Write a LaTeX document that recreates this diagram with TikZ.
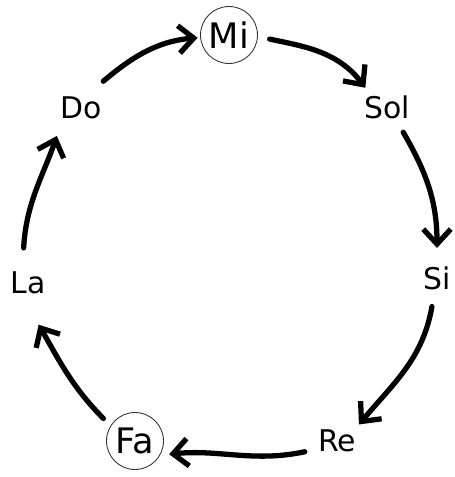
\documentclass[tikz,border=0pt]{standalone}
\usepackage{fontspec}
\setmainfont{DejaVu Sans}
\usepackage{tikz}
\usetikzlibrary{arrows.meta}

\begin{document}
\begin{tikzpicture}[x=0.02cm,y=0.02cm,line join=round,
  note/.style={circle,inner sep=0pt,outer sep=0pt,minimum size=1.1cm,font=\fontsize{17}{20}\selectfont},
  keynote/.style={note,draw=black!80,line width=.5pt,minimum size=1.14cm,font=\fontsize{20}{23}\selectfont},
  turn/.style={line width=3pt,line cap=round,-{Straight Barb[length=.3cm,width=.55cm]}}]
\useasboundingbox (0,0) rectangle (454,477);
\node[keynote] (mi) at (229,442) {Mi};
\node[note] (sol) at (387,370) {Sol};
\node[note] (si) at (437,199) {Si};
\node[note] (re) at (337,36) {Re};
\node[keynote] (fa) at (135,36) {Fa};
\node[note] (la) at (28,194) {La};
\node[note] (do) at (81,369) {Do};
\draw[turn,shorten <=.15cm,shorten >=.06cm] (do.53) to[out=40,in=185] (mi.185);
\draw[turn,shorten <=.25cm,shorten >=.03cm] (mi.-3) to[out=-12,in=127] (sol.139);
\draw[turn,shorten <=.05cm,shorten >=.05cm] (sol.-57) to[out=-60,in=90] (si.90);
\draw[turn,shorten <=.03cm] (si.-100) to[out=-100,in=50] (re.37);
\draw[turn,shorten <=.13cm,shorten >=.19cm] (re.-160) to[out=192,in=6] (fa.-30);
\draw[turn,shorten <=.21cm,shorten >=.33cm] (fa.148) to[out=135,in=-60] (la.-85);
\draw[turn,shorten <=.16cm,shorten >=.21cm] (la.100) to[out=87,in=-109] (do.221);
\end{tikzpicture}
\end{document}
